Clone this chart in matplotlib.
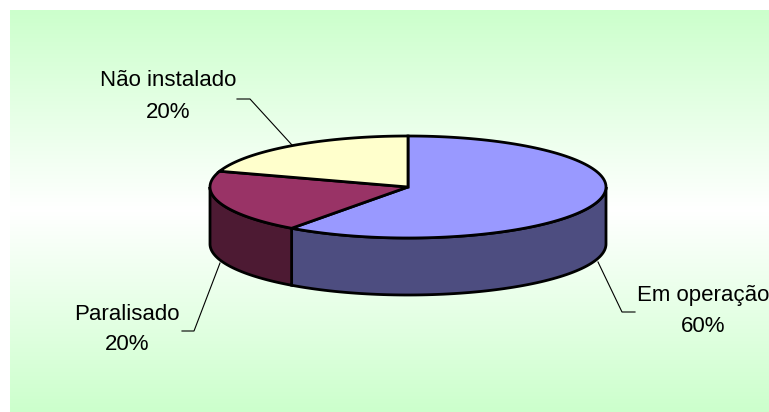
import numpy as np
import matplotlib
matplotlib.use('Agg')
import matplotlib.pyplot as plt
from matplotlib.patches import Polygon
from matplotlib.colors import LinearSegmentedColormap

labels = ['Em operação', 'Paralisado', 'Não instalado']
values = [60, 20, 20]
top_colors = ['#9999ff', '#993366', '#ffffcc']
side_colors = ['#4d4d80', '#4d1a33', '#808066']

W, H = 769, 412
fig = plt.figure(figsize=(W / 100, H / 100), dpi=100)
ax = fig.add_axes([0, 0, 1, 1])
ax.set_xlim(0, W)
ax.set_ylim(H, 0)
ax.axis('off')

# background panel, green - white - green
grad = np.abs(np.linspace(-1, 1, 256)).reshape(-1, 1)
cmap = LinearSegmentedColormap.from_list('bg', ['#ffffff', '#ccffcc'])
ax.imshow(grad, cmap=cmap, extent=[10, W, H, 10], aspect='auto', zorder=0)

# pie geometry (pixels)
cx, cy = 408, 187
rx, ry = 198, 51
depth = 57


def ell(t, dy=0):
    return cx + rx * np.cos(t), cy - ry * np.sin(t) + dy


fracs = np.array(values) / sum(values)
starts = 90 - 360 * np.concatenate([[0], np.cumsum(fracs)[:-1]])
ends = starts - 360 * fracs

# side walls (front half only: angles between -180 and 0)
for s, e, col in zip(starts, ends, side_colors):
    a0, a1 = min(s, 0), max(e, -180)
    if a0 <= a1:
        continue
    t = np.radians(np.linspace(a0, a1, 80))
    xt, yt = ell(t)
    xb, yb = ell(t[::-1], depth)
    pts = np.column_stack([np.concatenate([xt, xb]), np.concatenate([yt, yb])])
    ax.add_patch(Polygon(pts, closed=True, fc=col, ec='black', lw=2, zorder=2))

# top faces
for s, e, col in zip(starts, ends, top_colors):
    t = np.radians(np.linspace(s, e, 120))
    xt, yt = ell(t)
    pts = np.column_stack([np.concatenate([[cx], xt]), np.concatenate([[cy], yt])])
    ax.add_patch(Polygon(pts, closed=True, fc=col, ec='black', lw=2,
                         joinstyle='miter', zorder=3))

# labels with leader lines
fs = 16
font = dict(family=['Liberation Sans', 'DejaVu Sans'], fontsize=fs, color='black',
            ha='center', va='center', zorder=5)
label_pos = [(703, 295, 327), (127, 314, 344), (168, 80, 112)]
leaders = [
    [(598, 262), (622, 312), (635, 312)],
    [(220, 263), (194, 331), (182, 331)],
    [(292, 145), (250, 99), (237, 99)],
]
for name, v, (lx, ly1, ly2), pts in zip(labels, values, label_pos, leaders):
    ax.text(lx, ly1, name, **font)
    ax.text(lx, ly2, f'{v}%', **font)
    xs, ys = zip(*pts)
    ax.plot(xs, ys, color='black', lw=0.8, zorder=4)

fig.savefig('out.png', dpi=100)
